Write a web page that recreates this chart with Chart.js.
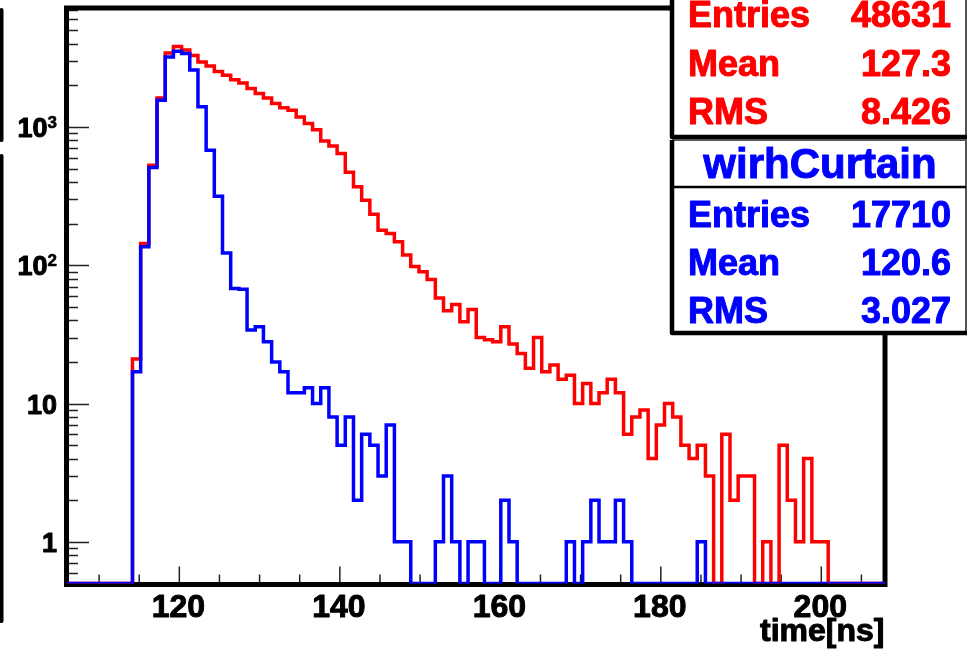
<!DOCTYPE html>
<html>
<head>
<meta charset="utf-8">
<title>time[ns]</title>
<script src="https://cdn.jsdelivr.net/npm/chart.js@4.4.0/dist/chart.umd.min.js"></script>
<style>
  html, body { margin: 0; padding: 0; background: #fff; }
  canvas { display: block; }
</style>
</head>
<body>
<canvas id="timeChart" width="974" height="649"></canvas>
<script>
// histogram binning: 100 bins between 106 and 208 ns
const X_MIN = 106;
const X_MAX = 208;
const N_BINS = 100;
const Y_MIN = 0.5;
const Y_MAX = 7260;

// counts per bin, red = without curtain, blue = with curtain
const noCurtain = [
  0, 0, 0, 0, 0, 0, 0, 0, 21, 144,
  530, 1620, 3430, 3830, 3600, 3290, 2950, 2760, 2520, 2370,
  2200, 2080, 1900, 1745, 1620, 1480, 1380, 1320, 1180, 1060,
  955, 792, 730, 644, 472, 370, 295, 234, 179, 170,
  148, 119, 98, 90, 79, 58, 47, 52, 39, 48,
  30, 29, 28, 36, 27, 23, 18, 30, 17, 19,
  15, 16, 10, 14, 10, 12, 15, 12, 6, 8,
  9, 4, 7, 10, 8, 5, 4, 5, 3, 0,
  6, 2, 3, 3, 0, 1, 0, 5, 2, 1,
  4, 1, 1, 0, 0, 0, 0, 0, 0, 0
];
const withCurtain = [
  0, 0, 0, 0, 0, 0, 0, 0, 17, 136,
  510, 1560, 3210, 3540, 3400, 2590, 1400, 680, 316, 123,
  68, 67, 34, 36, 28, 20, 17, 12, 12, 13,
  10, 13, 8, 5, 8, 2, 6, 5, 3, 7,
  1, 1, 0, 0, 0, 1, 3, 1, 0, 1,
  1, 0, 0, 2, 1, 0, 0, 0, 0, 0,
  0, 1, 0, 1, 2, 1, 1, 2, 1, 0,
  0, 0, 0, 0, 0, 0, 0, 1, 0, 0,
  0, 0, 0, 0, 0, 0, 0, 0, 0, 0,
  0, 0, 0, 0, 0, 0, 0, 0, 0, 0
];

const xTickLabels = [120, 140, 160, 180, 200];
const yTickValues = [1, 10, 100, 1000];
const yTickBase = ['1', '10', '10', '10'];
const yTickExp = ['', '', '2', '3'];
const xTitle = 'time[ns]';

const statsRed = [['Entries', '48631'], ['Mean', '127.3'], ['RMS', '8.426']];
const statsBlueTitle = 'wirhCurtain';
const statsBlue = [['Entries', '17710'], ['Mean', '120.6'], ['RMS', '3.027']];

const FONT = '"Liberation Sans", Arial, Helvetica, sans-serif';

// turn bin counts into an outline; empty bins sit on the bottom of the frame
function histPoints(counts) {
  const w = (X_MAX - X_MIN) / N_BINS;
  const pts = [];
  counts.forEach((c, i) => {
    const y = c > 0 ? c : Y_MIN;
    pts.push({ x: X_MIN + i * w, y: y });
    pts.push({ x: X_MIN + (i + 1) * w, y: y });
  });
  return pts;
}

// heavy text: fill plus a thin outline in the same colour
function boldText(ctx, str, x, y, weight) {
  ctx.fillText(str, x, y);
  ctx.lineWidth = weight;
  ctx.strokeStyle = ctx.fillStyle;
  ctx.lineJoin = 'round';
  ctx.strokeText(str, x, y);
}

function drawStatsBox(ctx, x0, y0, x1, y1) {
  ctx.fillStyle = '#fff';
  ctx.fillRect(x0, y0, x1 - x0, y1 - y0);
  ctx.strokeStyle = '#555';
  ctx.lineWidth = 2;
  ctx.beginPath();
  ctx.moveTo(x0, y0); ctx.lineTo(x1, y0); ctx.lineTo(x1, y1);
  ctx.stroke();
  ctx.strokeStyle = '#000';
  ctx.lineWidth = 4.5;
  ctx.beginPath();
  ctx.moveTo(x0, y0); ctx.lineTo(x0, y1); ctx.lineTo(x1 + 1, y1);
  ctx.stroke();
}

function drawRows(ctx, rows, color, baselines) {
  ctx.fillStyle = color;
  ctx.font = 'bold 36px ' + FONT;
  ctx.textBaseline = 'alphabetic';
  rows.forEach((r, i) => {
    ctx.textAlign = 'left';
    boldText(ctx, r[0], 688, baselines[i], 1);
    ctx.textAlign = 'right';
    boldText(ctx, r[1], 951, baselines[i], 1);
  });
}

const rootStyle = {
  id: 'rootStyle',
  beforeDatasetsDraw(chart) {
    const { ctx, chartArea: a, scales: { x, y } } = chart;
    ctx.save();
    ctx.strokeStyle = '#222';
    ctx.lineWidth = 1.5;
    ctx.beginPath();
    for (let v = 110; v < X_MAX; v += 5) {
      const px = x.getPixelForValue(v);
      const len = v % 20 === 0 ? 17 : 9;
      ctx.moveTo(px, a.bottom);
      ctx.lineTo(px, a.bottom - len);
    }
    for (let d = -1; d <= 3; d++) {
      for (let m = 1; m <= 9; m++) {
        const v = m * Math.pow(10, d);
        if (v <= Y_MIN || v > Y_MAX) continue;
        const py = Math.round(y.getPixelForValue(v)) + 0.5;
        const len = m === 1 ? 22 : 11;
        ctx.moveTo(a.left, py);
        ctx.lineTo(a.left + len, py);
      }
    }
    ctx.stroke();

    ctx.strokeStyle = '#000';
    ctx.lineWidth = 5;
    ctx.strokeRect(a.left - 0.5, a.top, a.right - a.left, a.bottom - a.top + 1);
    ctx.restore();
  },
  afterDraw(chart) {
    const { ctx, chartArea: a, scales: { x, y } } = chart;
    ctx.save();
    ctx.fillStyle = '#000';

    // x labels
    ctx.font = 'bold 32px ' + FONT;
    ctx.textAlign = 'center';
    ctx.textBaseline = 'alphabetic';
    xTickLabels.forEach(v => {
      boldText(ctx, String(v), x.getPixelForValue(v) - 1, 617, 1);
    });

    // axis title, right aligned on the frame
    ctx.textAlign = 'right';
    boldText(ctx, xTitle, a.right - 1, 641, 1);

    // y labels with superscript exponents
    ctx.textBaseline = 'middle';
    yTickValues.forEach((v, i) => {
      const py = y.getPixelForValue(v);
      let right = 57;
      if (yTickExp[i]) {
        ctx.font = 'bold 17px ' + FONT;
        ctx.textAlign = 'right';
        boldText(ctx, yTickExp[i], right, py - 4, 0.6);
        right -= ctx.measureText(yTickExp[i]).width;
      }
      ctx.font = 'bold 27px ' + FONT;
      ctx.textAlign = 'right';
      boldText(ctx, yTickBase[i], right, py + 2.5, 1);
    });

    // stats boxes
    drawStatsBox(ctx, 672, -10, 966, 137);
    drawRows(ctx, statsRed, '#ff0000', [27, 76, 124]);

    drawStatsBox(ctx, 672, 140, 966, 333);
    ctx.strokeStyle = '#000';
    ctx.lineWidth = 2.5;
    ctx.beginPath();
    ctx.moveTo(672, 187);
    ctx.lineTo(966, 187);
    ctx.stroke();
    ctx.fillStyle = '#0000ff';
    ctx.font = 'bold 42px ' + FONT;
    ctx.textAlign = 'center';
    ctx.textBaseline = 'alphabetic';
    boldText(ctx, statsBlueTitle, 820, 178, 1);
    drawRows(ctx, statsBlue, '#0000ff', [227, 275, 323]);

    // edge of the pad on the far left
    ctx.strokeStyle = '#000';
    ctx.lineWidth = 4;
    ctx.lineCap = 'round';
    ctx.beginPath();
    ctx.moveTo(1.5, 10); ctx.lineTo(1.5, 140);
    ctx.moveTo(1.5, 156); ctx.lineTo(1.5, 621);
    ctx.stroke();
    ctx.restore();
  }
};

new Chart(document.getElementById('timeChart').getContext('2d'), {
  type: 'line',
  data: {
    datasets: [
      {
        label: 'wirhCurtain',
        data: histPoints(withCurtain),
        borderColor: '#0000ff',
        borderWidth: 3.5,
        borderJoinStyle: 'miter',
        pointRadius: 0,
        fill: false,
        tension: 0,
        order: 0
      },
      {
        label: 'noCurtain',
        data: histPoints(noCurtain),
        borderColor: '#ff0000',
        borderWidth: 3.5,
        borderJoinStyle: 'miter',
        pointRadius: 0,
        fill: false,
        tension: 0,
        order: 1
      }
    ]
  },
  options: {
    responsive: false,
    devicePixelRatio: 1,
    animation: false,
    parsing: false,
    layout: { padding: { left: 67, right: 88.5, top: 8, bottom: 65.5 } },
    plugins: { legend: { display: false }, tooltip: { enabled: false } },
    scales: {
      x: { type: 'linear', min: X_MIN, max: X_MAX, display: false },
      y: { type: 'logarithmic', min: Y_MIN, max: Y_MAX, display: false }
    }
  },
  plugins: [rootStyle]
});
</script>
</body>
</html>
